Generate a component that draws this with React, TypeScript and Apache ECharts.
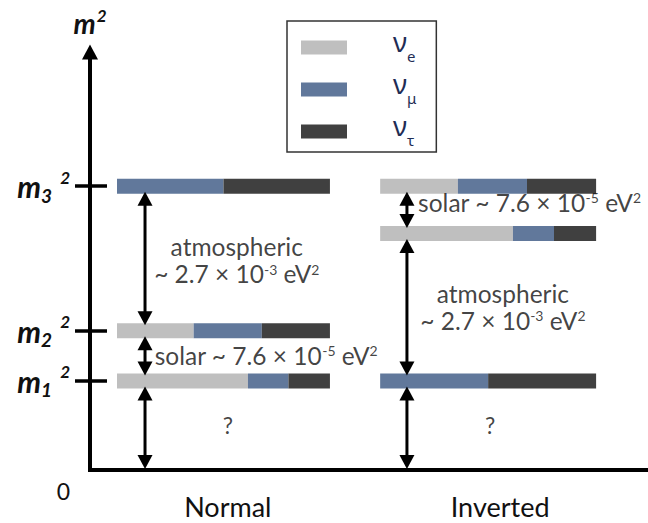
import React, { useEffect, useRef } from 'react';
import * as echarts from 'echarts';

// Mass orderings along the horizontal axis (x in arbitrary units, 0..100)
const hierarchies = ['Normal', 'Inverted'];
const hierarchyLabelX = [24.7, 73.5];
const levelStartX = [4.84, 52.0];
const levelEndX = [43.0, 90.7];
const arrowX = [9.86, 56.8];

// m² of the mass states m1, m2, m3 in each ordering (arbitrary units, 0..100)
const massSubscripts = ['1', '2', '3'];
const normalLevels = [21.3, 33.3, 67.9];
const invertedLevels = [56.6, 67.9, 21.3];

// Flavour content of m1, m2, m3
const flavorNames = ['νe', 'νμ', 'ντ'];
const flavorSubscripts = ['e', 'μ', 'τ'];
const flavorColors = ['#bfbfbf', '#61789b', '#404040'];
const nuE = [0.615, 0.36, 0];
const nuMu = [0.19, 0.32, 0.5];
const nuTau = [0.195, 0.32, 0.5];

// Splitting annotations
const annotationTexts = [
  '{t|atmospheric}\n{t|~ 2.7 × 10}{sup|-3}{t| eV}{sup|2}',
  '{t|solar ~ 7.6 × 10}{sup|-5}{t| eV}{sup|2}',
  '{q|?}',
  '{t|solar ~ 7.6 × 10}{sup|-5}{t| eV}{sup|2}',
  '{t|atmospheric}\n{t|~ 2.7 × 10}{sup|-3}{t| eV}{sup|2}',
  '{q|?}',
];
const annotationX = [26.3, 11.6, 24.7, 58.8, 74.0, 71.7];
const annotationY = [50.2, 27.5, 10.8, 64.1, 39.1, 10.8];
const annotationAnchor = ['center', 'left', 'center', 'left', 'center', 'center'];

const BAR_H = 15;
const TIP_INSET = 2;
const HEAD_W = 15;
const HEAD_L = 14;
const SHAFT_W = 3;
const TEXT = '#111111';
const NAVY = '#1f2d55';

const levelsByHierarchy = [normalLevels, invertedLevels];
const flavorFractions = [nuE, nuMu, nuTau];

function segmentData(f: number) {
  const out: number[][] = [];
  levelsByHierarchy.forEach((levels, h) => {
    const w = levelEndX[h] - levelStartX[h];
    levels.forEach((y, m) => {
      let cum = 0;
      for (let k = 0; k < f; k++) cum += flavorFractions[k][m];
      const frac = flavorFractions[f][m];
      if (frac > 0) out.push([levelStartX[h] + w * cum, levelStartX[h] + w * (cum + frac), y]);
    });
  });
  return out;
}

const arrowData: number[][] = [];
levelsByHierarchy.forEach((levels, h) => {
  const stops = [0, ...[...levels].sort((a, b) => a - b)];
  for (let i = 0; i < stops.length - 1; i++) arrowData.push([arrowX[h], stops[i], stops[i + 1]]);
});

const bold = { fontFamily: 'Lato', fontWeight: 'bold' as const, fontStyle: 'italic' as const, color: TEXT };
const massRich = {
  m: { ...bold, fontSize: 30 },
  sub: { ...bold, fontSize: 19, padding: [18, 0, 0, 0] },
  sup: { ...bold, fontSize: 17, padding: [0, 0, 18, 8] },
  zero: { fontFamily: 'Lato', fontSize: 23, color: TEXT, padding: [42, 0, 0, 0] },
};
const annotationRich = {
  t: { fontFamily: 'Lato', fontSize: 24.5, color: TEXT, lineHeight: 27 },
  sup: { fontFamily: 'Lato', fontSize: 14, color: TEXT, padding: [0, 0, 9, 0] },
  q: { fontFamily: 'Lato', fontSize: 23, color: TEXT },
};

function findIndex(arr: number[], v: number) {
  return arr.findIndex((a) => Math.abs(a - v) < 1e-6);
}

export default function App() {
  const ref = useRef<HTMLDivElement>(null);
  useEffect(() => {
    if (!ref.current) return;
    const chart = echarts.init(ref.current, undefined, { renderer: 'svg' });
    const tickLine = { color: '#000', width: 3.5 };
    chart.setOption({
      animation: false,
      backgroundColor: '#ffffff',
      grid: { left: 90, right: 0, top: 52, bottom: 53 },
      legend: {
        orient: 'vertical',
        left: 287,
        top: 21,
        padding: [7, 20, 1, 14],
        itemGap: 3,
        itemWidth: 46,
        itemHeight: 14,
        icon: 'rect',
        selectedMode: false,
        borderColor: '#333',
        borderWidth: 1.5,
        data: flavorNames,
        formatter: (name: string) => `{nu|ν}{sub|${flavorSubscripts[flavorNames.indexOf(name)]}}`,
        textStyle: {
          rich: {
            nu: { fontFamily: 'Noto Sans', fontSize: 27, color: NAVY, lineHeight: 14, padding: [0, 0, 12, 41] },
            sub: { fontFamily: 'Noto Sans', fontSize: 15, color: NAVY, lineHeight: 10, padding: [16, 0, 0, 0] },
          },
        },
      },
      xAxis: {
        type: 'value',
        min: 0,
        max: 100,
        axisLine: { show: true, onZero: false, lineStyle: { color: '#000', width: 4 } },
        axisTick: { show: false },
        splitLine: { show: false },
        axisLabel: {
          customValues: hierarchyLabelX,
          formatter: (v: number) => hierarchies[findIndex(hierarchyLabelX, v)] ?? '',
          margin: 23,
          fontFamily: 'Lato',
          fontSize: 27,
          lineHeight: 27,
          color: TEXT,
        },
      },
      yAxis: [
        {
          type: 'value',
          min: 0,
          max: 100,
          name: '{m|m}{sup|2}',
          nameLocation: 'end',
          nameGap: 13,
          nameTextStyle: {
            rich: {
              m: { ...bold, fontSize: 28 },
              sup: { ...bold, fontSize: 17, padding: [0, 0, 15, 1] },
            },
          },
          axisLine: {
            show: true,
            onZero: false,
            symbol: ['none', 'triangle'],
            symbolSize: [16, 15],
            lineStyle: { color: '#000', width: 4, cap: 'square' },
          },
          axisTick: { show: true, customValues: normalLevels, length: 15, lineStyle: tickLine },
          splitLine: { show: false },
          axisLabel: {
            customValues: [0, ...normalLevels],
            margin: 20,
            formatter: (v: number) => {
              if (Math.abs(v) < 1e-6) return '{zero|0}';
              const i = findIndex(normalLevels, v);
              return i < 0 ? '' : `{m|m}{sub|${massSubscripts[i]}}{sup|2}`;
            },
            rich: massRich,
          },
        },
        {
          type: 'value',
          min: 0,
          max: 100,
          position: 'left',
          axisLine: { show: false, onZero: false },
          axisLabel: { show: false },
          splitLine: { show: false },
          axisTick: { show: true, inside: true, customValues: normalLevels, length: 17, lineStyle: tickLine },
        },
      ],
      series: [
        ...flavorNames.map((name, f) => ({
          name,
          type: 'custom',
          color: flavorColors[f],
          clip: false,
          silent: true,
          z: 2,
          data: segmentData(f),
          renderItem: (_p: any, api: any) => {
            const a = api.coord([api.value(0), api.value(2)]);
            const b = api.coord([api.value(1), api.value(2)]);
            return {
              type: 'rect',
              shape: { x: a[0], y: a[1] - BAR_H / 2, width: b[0] - a[0], height: BAR_H },
              style: { fill: flavorColors[f] },
            };
          },
        })),
        {
          name: 'splittings',
          type: 'custom',
          clip: false,
          silent: true,
          z: 4,
          data: arrowData,
          renderItem: (_p: any, api: any) => {
            const x = api.value(0);
            const lo = api.value(1);
            const hi = api.value(2);
            const pLo = api.coord([x, lo]);
            const pHi = api.coord([x, hi]);
            const px = pLo[0];
            const bottomTip = lo === 0 ? pLo[1] - 1 : pLo[1] - (BAR_H / 2 - TIP_INSET);
            const topTip = pHi[1] + (BAR_H / 2 - TIP_INSET);
            return {
              type: 'group',
              children: [
                {
                  type: 'line',
                  shape: { x1: px, y1: topTip + HEAD_L - 1, x2: px, y2: bottomTip - HEAD_L + 1 },
                  style: { stroke: '#000', lineWidth: SHAFT_W },
                },
                {
                  type: 'polygon',
                  shape: { points: [[px, topTip], [px - HEAD_W / 2, topTip + HEAD_L], [px + HEAD_W / 2, topTip + HEAD_L]] },
                  style: { fill: '#000' },
                },
                {
                  type: 'polygon',
                  shape: { points: [[px, bottomTip], [px - HEAD_W / 2, bottomTip - HEAD_L], [px + HEAD_W / 2, bottomTip - HEAD_L]] },
                  style: { fill: '#000' },
                },
              ],
            };
          },
        },
        {
          name: 'annotations',
          type: 'scatter',
          symbolSize: 0,
          silent: true,
          z: 5,
          label: { show: true, color: TEXT, rich: annotationRich },
          data: annotationTexts.map((text, i) => ({
            value: [annotationX[i], annotationY[i]],
            label: {
              show: true,
              formatter: text,
              position: annotationAnchor[i] === 'left' ? 'right' : 'inside',
              distance: 0,
            },
          })),
        },
      ],
    });
    return () => chart.dispose();
  }, []);
  return <div ref={ref} style={{ position: 'fixed', left: 0, top: 0, width: 648, height: 523 }} />;
}
